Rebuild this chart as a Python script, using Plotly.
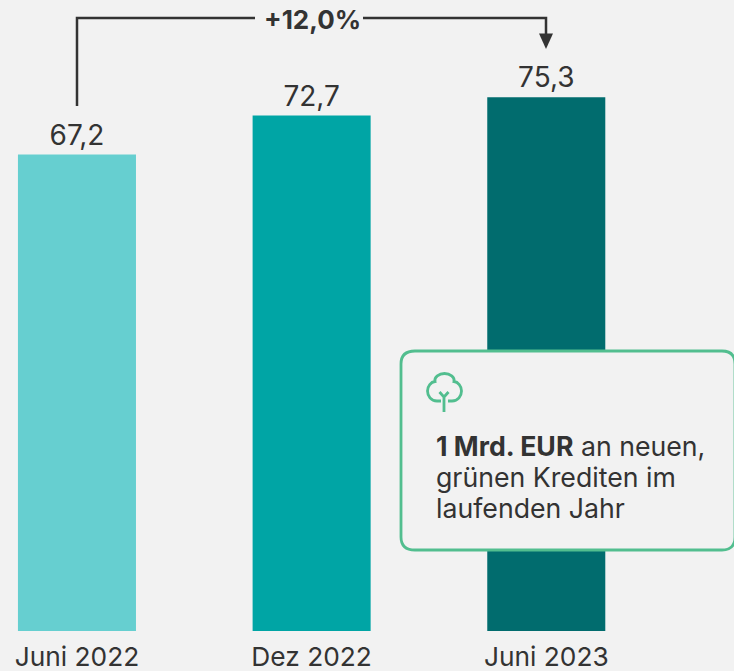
import plotly.graph_objects as go

categories = ["Juni 2022", "Dez 2022", "Juni 2023"]
values = [67.2, 72.7, 75.3]
value_labels = ["67,2", "72,7", "75,3"]
bar_colors = ["#66CFD0", "#00A5A5", "#016C6E"]
change_label = "+12,0%"
note_lines = ["<b>1 Mrd. EUR</b> an neuen,", "grünen Krediten im", "laufenden Jahr"]
note_line_y = [446, 477, 508]

W, H = 734, 671
BOTTOM = 40
INK = "#333333"
GREEN = "#52BE8F"
BG = "#F2F2F2"
FONT = "Inter"

def px(x):
    return x / W

def py(y):
    return 1 - y / (H - BOTTOM)

def path(cmds):
    out = []
    for c, *pts in cmds:
        s = c
        for i in range(0, len(pts), 2):
            s += f" {px(pts[i]):.5f},{py(pts[i+1]):.5f}"
        out.append(s)
    return " ".join(out)

fig = go.Figure(go.Bar(
    x=categories, y=values, width=0.503,
    marker=dict(color=bar_colors, line_width=0),
    text=value_labels, textposition="outside", cliponaxis=False,
    textfont=dict(family=FONT, size=28, color=INK),
))

line = dict(color=INK, width=2.5)
icon = dict(color=GREEN, width=2.8)
shapes = [
    dict(type="path", xref="paper", yref="paper", line=line,
         path=path([("M", 77, 106), ("L", 77, 18), ("L", 255, 18)])),
    dict(type="path", xref="paper", yref="paper", line=line,
         path=path([("M", 363, 18), ("L", 546, 18), ("L", 546, 36)])),
    dict(type="path", xref="paper", yref="paper", line=dict(color=INK, width=0), fillcolor=INK,
         path=path([("M", 539, 33.5), ("L", 553, 33.5), ("L", 546, 49), ("Z",)])),
    # note box
    dict(type="path", xref="paper", yref="paper", layer="above",
         line=dict(color=GREEN, width=2.8), fillcolor=BG,
         path=path([("M", 415, 351), ("L", 722, 351), ("Q", 735, 351, 735, 364), ("L", 735, 537),
                    ("Q", 735, 550, 722, 550), ("L", 415, 550), ("Q", 401, 550, 401, 537),
                    ("L", 401, 364), ("Q", 401, 351, 415, 351), ("Z",)])),
    # tree icon
    dict(type="path", xref="paper", yref="paper", layer="above",
         line=icon, fillcolor="rgba(0,0,0,0)",
         path=path([("M", 437, 401), ("C", 431, 401, 427.5, 396, 427.5, 391), ("C", 427.5, 386, 431, 382, 435, 381.5),
                    ("C", 434, 377, 439, 373.5, 444.5, 373.5), ("C", 450, 373.5, 455, 377, 454, 381.5),
                    ("C", 458, 382, 461.5, 386, 461.5, 391), ("C", 461.5, 396, 458, 401, 452, 401)])),
    dict(type="path", xref="paper", yref="paper", layer="above",
         line=icon, path=path([("M", 437, 401), ("L", 441, 401), ("M", 448, 401), ("L", 452, 401)])),
    dict(type="path", xref="paper", yref="paper", layer="above",
         line=icon,
         path=path([("M", 444, 412), ("L", 444, 397), ("L", 439.5, 392), ("M", 444, 397), ("L", 448.5, 392)])),
]

annotations = [
    dict(x=px(312), y=py(20), xref="paper", yref="paper", text=f"<b>{change_label}</b>", showarrow=False,
         font=dict(family=FONT, size=26, color=INK), xanchor="center", yanchor="middle"),
]
for txt, ly in zip(note_lines, note_line_y):
    annotations.append(dict(x=px(434), y=py(ly), xref="paper", yref="paper", text=txt, showarrow=False, align="left",
                            font=dict(family=FONT, size=26.7, color=INK), xanchor="left", yanchor="middle"))

fig.update_layout(
    width=W, height=H, autosize=False, margin=dict(l=0, r=0, t=0, b=BOTTOM),
    paper_bgcolor=BG, plot_bgcolor=BG, showlegend=False,
    shapes=shapes, annotations=annotations,
    xaxis=dict(type="category", range=[-0.328, 2.80], showgrid=False, zeroline=False, showline=False,
               ticks="", ticklabelstandoff=8, tickfont=dict(family=FONT, size=26.3, color=INK)),
    yaxis=dict(range=[0, 89], visible=False, showgrid=False, zeroline=False),
)
fig.write_html("out.html", config={"displayModeBar": False},
               post_script="document.body.style.margin='0';document.body.style.background='#F2F2F2';document.documentElement.style.overflow='hidden';")
